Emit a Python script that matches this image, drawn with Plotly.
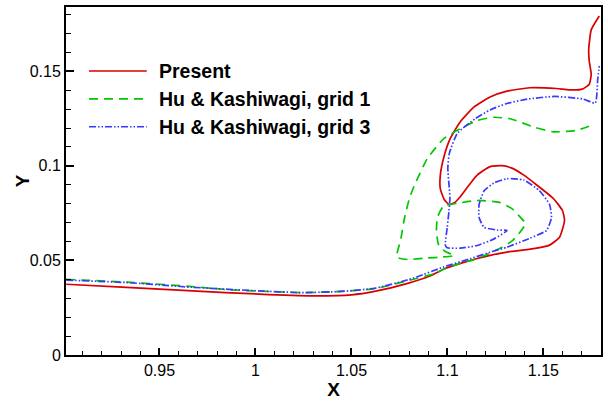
import plotly.graph_objects as go

# Interface position: present computation
present_x = [0.9014, 0.9328, 0.9672, 1.0017, 1.0293, 1.0500, 1.0620, 1.0793, 1.0912, 1.0984,
             1.1077, 1.1155, 1.1222, 1.1310, 1.1449, 1.1532, 1.1584, 1.1610, 1.1599, 1.1553,
             1.1465, 1.1398, 1.1336, 1.1284, 1.1222, 1.1155, 1.1113, 1.1067, 1.1036, 1.1010,
             1.0984, 1.0963, 1.0963, 1.0984, 1.1015, 1.1067, 1.1139, 1.1222, 1.1310, 1.1429,
             1.1568, 1.1635, 1.1703, 1.1739, 1.1749, 1.1739, 1.1736, 1.1749, 1.1791]
present_y = [0.0374, 0.0358, 0.0339, 0.0322, 0.0313, 0.0318, 0.0336, 0.0379, 0.0419, 0.0456,
             0.0487, 0.0510, 0.0527, 0.0544, 0.0562, 0.0581, 0.0623, 0.0711, 0.0764, 0.0826,
             0.0899, 0.0951, 0.0988, 0.1001, 0.0996, 0.0951, 0.0899, 0.0837, 0.0805, 0.0795,
             0.0821, 0.0878, 0.0951, 0.1056, 0.1145, 0.1233, 0.1312, 0.1364, 0.1395, 0.1413,
             0.1409, 0.1402, 0.1406, 0.1432, 0.1484, 0.1552, 0.1614, 0.1719, 0.1792]

# Hu & Kashiwagi, grid 1
grid1_x = [0.9014, 0.9328, 0.9672, 0.9845, 1.0017, 1.0239, 1.0446, 1.0622, 1.0793, 1.0932,
           1.0987, 1.1056, 1.1127, 1.1214, 1.1284, 1.1336, 1.1372, 1.1406, 1.1372, 1.1336,
           1.1266, 1.1160, 1.1056, 1.0979, 1.0948, 1.0943, 1.0953, 1.0989, 1.1036, 1.0974,
           1.0896, 1.0793, 1.0736, 1.0756, 1.0777, 1.0803, 1.0829, 1.0896, 1.0982, 1.1068,
           1.1155, 1.1241, 1.1327, 1.1448, 1.1551, 1.1672, 1.1761]
grid1_y = [0.0400, 0.0385, 0.0362, 0.0346, 0.0338, 0.0330, 0.0336, 0.0351, 0.0393, 0.0430,
           0.0456, 0.0482, 0.0500, 0.0535, 0.0570, 0.0602, 0.0641, 0.0694, 0.0737, 0.0774,
           0.0808, 0.0817, 0.0803, 0.0787, 0.0727, 0.0659, 0.0586, 0.0547, 0.0526, 0.0518,
           0.0513, 0.0505, 0.0518, 0.0607, 0.0727, 0.0831, 0.0899, 0.1040, 0.1145, 0.1197,
           0.1240, 0.1257, 0.1249, 0.1206, 0.1180, 0.1188, 0.1218]

# Hu & Kashiwagi, grid 3
grid3_x = [0.9014, 0.9328, 0.9672, 1.0017, 1.0239, 1.0446, 1.0622, 1.0793, 1.0844, 1.0982,
           1.1118, 1.1243, 1.1310, 1.1429, 1.1517, 1.1542, 1.1532, 1.1480, 1.1398, 1.1310,
           1.1243, 1.1191, 1.1165, 1.1165, 1.1191, 1.1258, 1.1310, 1.1243, 1.1155, 1.1067,
           1.0999, 1.0989, 1.0999, 1.1008, 1.1013, 1.1008, 1.1002, 1.1010, 1.1051, 1.1144,
           1.1222, 1.1310, 1.1418, 1.1558, 1.1708, 1.1770, 1.1783, 1.1791]
grid3_y = [0.0396, 0.0383, 0.0358, 0.0339, 0.0330, 0.0336, 0.0353, 0.0397, 0.0414, 0.0466,
           0.0509, 0.0550, 0.0570, 0.0617, 0.0659, 0.0727, 0.0796, 0.0868, 0.0925, 0.0932,
           0.0910, 0.0868, 0.0796, 0.0727, 0.0675, 0.0661, 0.0658, 0.0614, 0.0579, 0.0565,
           0.0567, 0.0581, 0.0675, 0.0762, 0.0831, 0.0901, 0.0988, 0.1066, 0.1171, 0.1249,
           0.1296, 0.1330, 0.1353, 0.1367, 0.1353, 0.1332, 0.1458, 0.1528]

x_ticks = [0.95, 1.0, 1.05, 1.1, 1.15]
x_tick_labels = ["0.95", "1", "1.05", "1.1", "1.15"]
y_ticks = [0.0, 0.05, 0.1, 0.15]
y_tick_labels = ["0", "0.05", "0.1", "0.15"]

series = [
    ("Present", present_x, present_y, "#d80000", "solid"),
    ("Hu &amp; Kashiwagi, grid 1", grid1_x, grid1_y, "#00c800", "9px,6px"),
    ("Hu &amp; Kashiwagi, grid 3", grid3_x, grid3_y, "#3a3aff", "7px,2px,1.5px,2px,1.5px,2px"),
]

FONT = "Liberation Sans, Arial, sans-serif"

fig = go.Figure()
for name, xs, ys, color, dash in series:
    fig.add_trace(go.Scatter(
        x=xs, y=ys, mode="lines", name=name, showlegend=False,
        line=dict(color=color, width=1.7, dash=dash, shape="spline", smoothing=0.5),
    ))

# Legend drawn as line samples with bold labels inside the plot frame
legend_rows = [0.816, 0.736, 0.656]
for (name, _, _, color, dash), yr in zip(series, legend_rows):
    fig.add_shape(type="line", xref="paper", yref="paper",
                  x0=0.043, x1=0.151, y0=yr, y1=yr,
                  line=dict(color=color, width=1.6, dash=dash))
    fig.add_annotation(xref="paper", yref="paper", x=0.1695, y=yr,
                       xanchor="left", yanchor="middle", showarrow=False,
                       text="<b>%s</b>" % name,
                       font=dict(family=FONT, size=19.5, color="black"))

# Rotated Y axis label to the left of the tick labels
fig.add_annotation(xref="paper", yref="paper", x=-0.082, y=0.5,
                   xanchor="center", yanchor="middle", showarrow=False,
                   textangle=-90, text="<b>Y</b>",
                   font=dict(family=FONT, size=19, color="black"))

axis_common = dict(
    showgrid=False, zeroline=False,
    showline=True, linewidth=2, linecolor="black", mirror=True,
    ticks="inside", tickwidth=1.5, tickcolor="black",
    tickfont=dict(family=FONT, size=16, color="black"),
)

fig.update_xaxes(
    range=[0.9013, 1.18], tickvals=x_ticks, ticktext=x_tick_labels, ticklen=7,
    minor=dict(ticks="inside", dtick=0.01, tick0=0.9, ticklen=4, tickwidth=1.2, tickcolor="black"),
    title=dict(text="<b>X</b>", font=dict(family=FONT, size=19, color="black"), standoff=3),
    **axis_common,
)
fig.update_yaxes(
    range=[0, 0.184], tickvals=y_ticks, ticktext=y_tick_labels, ticklen=8,
    minor=dict(ticks="inside", dtick=0.01, tick0=0, ticklen=5, tickwidth=1.2, tickcolor="black"),
    **axis_common,
)

fig.update_layout(
    width=608, height=401, autosize=False,
    margin=dict(l=66, r=5, t=7, b=42),
    paper_bgcolor="white", plot_bgcolor="white",
    font=dict(family=FONT, color="black"),
)

fig.write_html("out.html")
